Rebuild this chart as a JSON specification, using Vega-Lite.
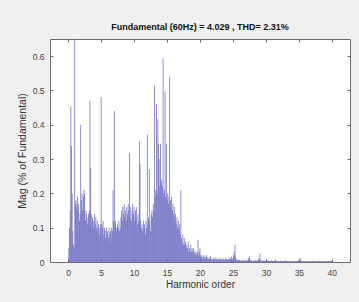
{
"$schema":"https://vega.github.io/schema/vega-lite/v6.json",
"autosize":"none",
"width":300,"height":223,
"padding":{"left":50,"top":39,"right":9,"bottom":40},
"background":"#f0f0f0",
"view":{"fill":"white","stroke":"#6e6e6e","strokeWidth":1},
"title":{"text":"Fundamental (60Hz) = 4.029 , THD= 2.31%","font":"Liberation Sans","fontSize":9,"fontWeight":"bold","color":"#111","anchor":"middle","offset":4},
"data":{"values":[
{"h":0.0,"m":0},{"h":0.1,"m":0.04},{"h":0.2,"m":0.1},{"h":0.3,"m":0.15},{"h":0.4,"m":0.453},{"h":0.5,"m":0.338},{"h":0.6,"m":0.2},{"h":0.7,"m":0.09},{"h":0.8,"m":0.05},{"h":0.9,"m":0.04},
{"h":1.0,"m":0.65},{"h":1.1,"m":0.17},{"h":1.2,"m":0.18},{"h":1.3,"m":0.16},{"h":1.4,"m":0.19},{"h":1.5,"m":0.15},{"h":1.6,"m":0.17},{"h":1.7,"m":0.12},{"h":1.8,"m":0.14},{"h":1.9,"m":0.40},
{"h":2.0,"m":0.18},{"h":2.1,"m":0.2},{"h":2.2,"m":0.15},{"h":2.3,"m":0.19},{"h":2.4,"m":0.21},{"h":2.5,"m":0.2},{"h":2.6,"m":0.12},{"h":2.7,"m":0.15},{"h":2.8,"m":0.14},{"h":2.9,"m":0.11},
{"h":3.0,"m":0.13},{"h":3.1,"m":0.14},{"h":3.2,"m":0.15},{"h":3.3,"m":0.47},{"h":3.4,"m":0.275},{"h":3.5,"m":0.14},{"h":3.6,"m":0.12},{"h":3.7,"m":0.13},{"h":3.8,"m":0.1},{"h":3.9,"m":0.12},
{"h":4.0,"m":0.14},{"h":4.1,"m":0.11},{"h":4.2,"m":0.13},{"h":4.3,"m":0.1},{"h":4.4,"m":0.12},{"h":4.5,"m":0.09},{"h":4.6,"m":0.11},{"h":4.7,"m":0.1},{"h":4.8,"m":0.08},{"h":4.9,"m":0.11},
{"h":5.0,"m":0.48},{"h":5.1,"m":0.11},{"h":5.2,"m":0.1},{"h":5.3,"m":0.12},{"h":5.4,"m":0.08},{"h":5.5,"m":0.1},{"h":5.6,"m":0.09},{"h":5.7,"m":0.07},{"h":5.8,"m":0.1},{"h":5.9,"m":0.08},
{"h":6.0,"m":0.09},{"h":6.1,"m":0.07},{"h":6.2,"m":0.1},{"h":6.3,"m":0.08},{"h":6.4,"m":0.09},{"h":6.5,"m":0.06},{"h":6.6,"m":0.1},{"h":6.7,"m":0.09},{"h":6.8,"m":0.21},{"h":6.9,"m":0.12},
{"h":7.0,"m":0.44},{"h":7.1,"m":0.11},{"h":7.2,"m":0.12},{"h":7.3,"m":0.1},{"h":7.4,"m":0.09},{"h":7.5,"m":0.11},{"h":7.6,"m":0.1},{"h":7.7,"m":0.12},{"h":7.8,"m":0.09},{"h":7.9,"m":0.1},
{"h":8.0,"m":0.13},{"h":8.1,"m":0.15},{"h":8.2,"m":0.12},{"h":8.3,"m":0.16},{"h":8.4,"m":0.14},{"h":8.5,"m":0.17},{"h":8.6,"m":0.13},{"h":8.7,"m":0.15},{"h":8.8,"m":0.12},{"h":8.9,"m":0.16},
{"h":9.0,"m":0.14},{"h":9.1,"m":0.17},{"h":9.2,"m":0.15},{"h":9.3,"m":0.317},{"h":9.4,"m":0.13},{"h":9.5,"m":0.16},{"h":9.6,"m":0.12},{"h":9.7,"m":0.15},{"h":9.8,"m":0.17},{"h":9.9,"m":0.14},
{"h":10.0,"m":0.16},{"h":10.1,"m":0.12},{"h":10.2,"m":0.15},{"h":10.3,"m":0.13},{"h":10.4,"m":0.16},{"h":10.5,"m":0.11},{"h":10.6,"m":0.14},{"h":10.7,"m":0.12},{"h":10.8,"m":0.353},{"h":10.9,"m":0.285},
{"h":11.0,"m":0.12},{"h":11.1,"m":0.1},{"h":11.2,"m":0.11},{"h":11.3,"m":0.09},{"h":11.4,"m":0.12},{"h":11.5,"m":0.1},{"h":11.6,"m":0.11},{"h":11.7,"m":0.08},{"h":11.8,"m":0.12},{"h":11.9,"m":0.1},
{"h":12.0,"m":0.372},{"h":12.1,"m":0.11},{"h":12.2,"m":0.13},{"h":12.3,"m":0.27},{"h":12.4,"m":0.12},{"h":12.5,"m":0.09},{"h":12.6,"m":0.14},{"h":12.7,"m":0.15},{"h":12.8,"m":0.13},{"h":12.9,"m":0.17},
{"h":13.0,"m":0.15},{"h":13.1,"m":0.514},{"h":13.2,"m":0.19},{"h":13.3,"m":0.21},{"h":13.4,"m":0.46},{"h":13.5,"m":0.2},{"h":13.6,"m":0.416},{"h":13.7,"m":0.345},{"h":13.8,"m":0.3},{"h":13.9,"m":0.22},
{"h":14.0,"m":0.345},{"h":14.1,"m":0.23},{"h":14.2,"m":0.24},{"h":14.3,"m":0.22},{"h":14.4,"m":0.594},{"h":14.5,"m":0.2},{"h":14.6,"m":0.21},{"h":14.7,"m":0.497},{"h":14.8,"m":0.19},{"h":14.9,"m":0.345},
{"h":15.0,"m":0.18},{"h":15.1,"m":0.2},{"h":15.2,"m":0.17},{"h":15.3,"m":0.19},{"h":15.4,"m":0.541},{"h":15.5,"m":0.18},{"h":15.6,"m":0.16},{"h":15.7,"m":0.19},{"h":15.8,"m":0.15},{"h":15.9,"m":0.17},
{"h":16.0,"m":0.14},{"h":16.1,"m":0.16},{"h":16.2,"m":0.12},{"h":16.3,"m":0.14},{"h":16.4,"m":0.11},{"h":16.5,"m":0.13},{"h":16.6,"m":0.1},{"h":16.7,"m":0.12},{"h":16.8,"m":0.09},{"h":16.9,"m":0.11},
{"h":17.0,"m":0.08},{"h":17.1,"m":0.21},{"h":17.2,"m":0.07},{"h":17.3,"m":0.06},{"h":17.4,"m":0.08},{"h":17.5,"m":0.05},{"h":17.6,"m":0.07},{"h":17.7,"m":0.05},{"h":17.8,"m":0.06},{"h":17.9,"m":0.04},
{"h":18.0,"m":0.05},{"h":18.1,"m":0.04},{"h":18.2,"m":0.06},{"h":18.3,"m":0.03},{"h":18.4,"m":0.04},{"h":18.5,"m":0.03},{"h":18.6,"m":0.05},{"h":18.7,"m":0.03},{"h":18.8,"m":0.04},{"h":18.9,"m":0.03},
{"h":19.0,"m":0.04},{"h":19.1,"m":0.02},{"h":19.2,"m":0.03},{"h":19.3,"m":0.025},{"h":19.4,"m":0.03},{"h":19.5,"m":0.02},{"h":19.6,"m":0.03},{"h":19.7,"m":0.065},{"h":19.8,"m":0.02},{"h":19.9,"m":0.03},
{"h":20.0,"m":0.04},{"h":20.1,"m":0.02},{"h":20.2,"m":0.015},{"h":20.3,"m":0.02},{"h":20.4,"m":0.01},{"h":20.5,"m":0.015},{"h":20.6,"m":0.02},{"h":20.7,"m":0.01},{"h":20.8,"m":0.015},{"h":20.9,"m":0.01},
{"h":21.0,"m":0.02},{"h":21.1,"m":0.01},{"h":21.2,"m":0.015},{"h":21.3,"m":0.008},{"h":21.4,"m":0.012},{"h":21.5,"m":0.01},{"h":21.6,"m":0.018},{"h":21.7,"m":0.008},{"h":21.8,"m":0.01},{"h":21.9,"m":0.006},
{"h":22.0,"m":0.012},{"h":22.1,"m":0.008},{"h":22.2,"m":0.01},{"h":22.3,"m":0.006},{"h":22.4,"m":0.014},{"h":22.5,"m":0.008},{"h":22.6,"m":0.01},{"h":22.7,"m":0.005},{"h":22.8,"m":0.009},{"h":22.9,"m":0.006},
{"h":23.0,"m":0.01},{"h":23.1,"m":0.007},{"h":23.2,"m":0.012},{"h":23.3,"m":0.005},{"h":23.4,"m":0.008},{"h":23.5,"m":0.006},{"h":23.6,"m":0.01},{"h":23.7,"m":0.005},{"h":23.8,"m":0.008},{"h":23.9,"m":0.012},
{"h":24.0,"m":0.008},{"h":24.1,"m":0.01},{"h":24.2,"m":0.006},{"h":24.3,"m":0.009},{"h":24.4,"m":0.005},{"h":24.5,"m":0.012},{"h":24.6,"m":0.007},{"h":24.7,"m":0.01},{"h":24.8,"m":0.015},{"h":24.9,"m":0.008},
{"h":25.0,"m":0.012},{"h":25.1,"m":0.02},{"h":25.2,"m":0.03},{"h":25.3,"m":0.05},{"h":25.4,"m":0.015},{"h":25.5,"m":0.008},{"h":25.6,"m":0.006},{"h":25.7,"m":0.005},{"h":25.8,"m":0.007},{"h":25.9,"m":0.004},
{"h":26.0,"m":0.006},{"h":26.1,"m":0.004},{"h":26.2,"m":0.005},{"h":26.3,"m":0.003},{"h":26.4,"m":0.005},{"h":26.5,"m":0.004},{"h":26.6,"m":0.006},{"h":26.7,"m":0.003},{"h":26.8,"m":0.004},{"h":26.9,"m":0.005},
{"h":27.0,"m":0.004},{"h":27.1,"m":0.006},{"h":27.2,"m":0.004},{"h":27.3,"m":0.008},{"h":27.4,"m":0.012},{"h":27.5,"m":0.016},{"h":27.6,"m":0.006},{"h":27.7,"m":0.004},{"h":27.8,"m":0.005},{"h":27.9,"m":0.003},
{"h":28.0,"m":0.004},{"h":28.1,"m":0.003},{"h":28.2,"m":0.005},{"h":28.3,"m":0.003},{"h":28.4,"m":0.004},{"h":28.5,"m":0.006},{"h":28.6,"m":0.003},{"h":28.7,"m":0.004},{"h":28.8,"m":0.005},{"h":28.9,"m":0.008},
{"h":29.0,"m":0.012},{"h":29.1,"m":0.024},{"h":29.2,"m":0.006},{"h":29.3,"m":0.004},{"h":29.4,"m":0.003},{"h":29.5,"m":0.004},{"h":29.6,"m":0.003},{"h":29.7,"m":0.005},{"h":29.8,"m":0.003},{"h":29.9,"m":0.004},
{"h":30.0,"m":0.003},{"h":30.1,"m":0.004},{"h":30.2,"m":0.002},{"h":30.3,"m":0.005},{"h":30.4,"m":0.003},{"h":30.5,"m":0.004},{"h":30.6,"m":0.002},{"h":30.7,"m":0.003},{"h":30.8,"m":0.005},{"h":30.9,"m":0.003},
{"h":31.0,"m":0.004},{"h":31.1,"m":0.002},{"h":31.2,"m":0.003},{"h":31.3,"m":0.004},{"h":31.4,"m":0.005},{"h":31.5,"m":0.007},{"h":31.6,"m":0.003},{"h":31.7,"m":0.002},{"h":31.8,"m":0.003},{"h":31.9,"m":0.002},
{"h":32.0,"m":0.003},{"h":32.1,"m":0.002},{"h":32.2,"m":0.004},{"h":32.3,"m":0.002},{"h":32.4,"m":0.003},{"h":32.5,"m":0.002},{"h":32.6,"m":0.003},{"h":32.7,"m":0.004},{"h":32.8,"m":0.002},{"h":32.9,"m":0.003},
{"h":33.0,"m":0.005},{"h":33.1,"m":0.002},{"h":33.2,"m":0.003},{"h":33.3,"m":0.002},{"h":33.4,"m":0.003},{"h":33.5,"m":0.002},{"h":33.6,"m":0.002},{"h":33.7,"m":0.003},{"h":33.8,"m":0.002},{"h":33.9,"m":0.002},
{"h":34.0,"m":0.003},{"h":34.1,"m":0.002},{"h":34.2,"m":0.002},{"h":34.3,"m":0.003},{"h":34.4,"m":0.002},{"h":34.5,"m":0.002},{"h":34.6,"m":0.003},{"h":34.7,"m":0.002},{"h":34.8,"m":0.003},{"h":34.9,"m":0.004},
{"h":35.0,"m":0.006},{"h":35.1,"m":0.008},{"h":35.2,"m":0.011},{"h":35.3,"m":0.004},{"h":35.4,"m":0.002},{"h":35.5,"m":0.003},{"h":35.6,"m":0.002},{"h":35.7,"m":0.002},{"h":35.8,"m":0.003},{"h":35.9,"m":0.002},
{"h":36.0,"m":0.002},{"h":36.1,"m":0.003},{"h":36.2,"m":0.002},{"h":36.3,"m":0.002},{"h":36.4,"m":0.003},{"h":36.5,"m":0.002},{"h":36.6,"m":0.002},{"h":36.7,"m":0.003},{"h":36.8,"m":0.002},{"h":36.9,"m":0.002},
{"h":37.0,"m":0.003},{"h":37.1,"m":0.004},{"h":37.2,"m":0.002},{"h":37.3,"m":0.002},{"h":37.4,"m":0.003},{"h":37.5,"m":0.002},{"h":37.6,"m":0.002},{"h":37.7,"m":0.002},{"h":37.8,"m":0.003},{"h":37.9,"m":0.002},
{"h":38.0,"m":0.002},{"h":38.1,"m":0.003},{"h":38.2,"m":0.002},{"h":38.3,"m":0.002},{"h":38.4,"m":0.002},{"h":38.5,"m":0.003},{"h":38.6,"m":0.002},{"h":38.7,"m":0.002},{"h":38.8,"m":0.002},{"h":38.9,"m":0.003},
{"h":39.0,"m":0.002},{"h":39.1,"m":0.002},{"h":39.2,"m":0.003},{"h":39.3,"m":0.002},{"h":39.4,"m":0.002},{"h":39.5,"m":0.002},{"h":39.6,"m":0.003},{"h":39.7,"m":0.002},{"h":39.8,"m":0.002},{"h":39.9,"m":0.002},{"h":40.0,"m":0.003}
]},
"resolve":{"axis":{"x":"independent","y":"independent"}},
"layer":[
{"mark":{"type":"bar","size":0.75,"color":"#6a6ac0","clip":true},
 "encoding":{
  "x":{"field":"h","type":"quantitative","scale":{"domain":[-2,42],"nice":false,"zero":false},
   "axis":{"orient":"bottom","values":[0,5,10,15,20,25,30,35,40],"title":"Harmonic order","titleFont":"Liberation Sans","titleFontSize":10,"titleFontWeight":"normal","titleColor":"#333","titlePadding":3,
    "labelFont":"Liberation Sans","labelFontSize":8.5,"labelColor":"#444","tickSize":-3,"tickColor":"#6e6e6e","labelPadding":9,"domain":false,"grid":false}},
  "y":{"field":"m","type":"quantitative","scale":{"domain":[0,0.65],"nice":false},
   "axis":{"orient":"left","values":[0,0.1,0.2,0.3,0.4,0.5,0.6],"format":"~g","title":"Mag (% of Fundamental)","titleFont":"Liberation Sans","titleFontSize":10.5,"titleFontWeight":"normal","titleColor":"#333","titlePadding":5,
    "labelFont":"Liberation Sans","labelFontSize":8.5,"labelColor":"#444","tickSize":-3,"tickColor":"#6e6e6e","labelPadding":9,"domain":false,"grid":false}}
 }},
{"mark":{"type":"point","opacity":0},
 "encoding":{
  "x":{"field":"h","type":"quantitative","axis":{"orient":"top","values":[0,5,10,15,20,25,30,35,40],"labels":false,"title":null,"tickSize":-3,"tickColor":"#6e6e6e","domain":false,"grid":false}},
  "y":{"field":"m","type":"quantitative","axis":{"orient":"right","values":[0,0.1,0.2,0.3,0.4,0.5,0.6],"labels":false,"title":null,"tickSize":-3,"tickColor":"#6e6e6e","domain":false,"grid":false}}
 }}
]
}
